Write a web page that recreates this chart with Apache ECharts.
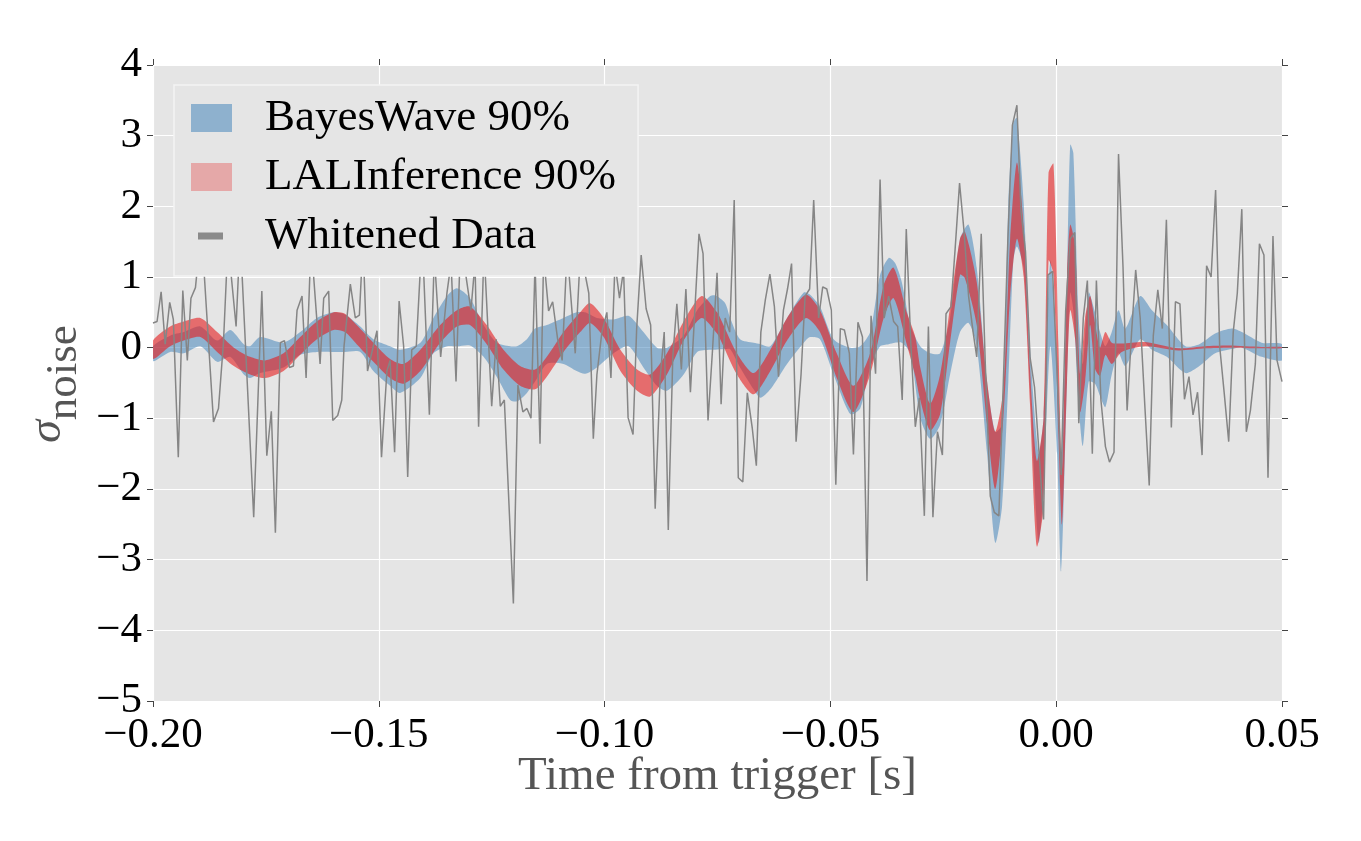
<!DOCTYPE html>
<html><head><meta charset="utf-8">
<script src="https://cdn.jsdelivr.net/npm/echarts@6/dist/echarts.min.js"></script>
<style>html,body{margin:0;padding:0;background:#fff}#c{width:1361px;height:841px}</style>
</head><body><div id="c"></div>
<script>
// Whitened data (time in s, value in sigma)
const dataT = [-0.2000,-0.1991,-0.1982,-0.1973,-0.1963,-0.1955,-0.1944,-0.1934,-0.1924,-0.1916,-0.1906,-0.1893,-0.1866,-0.1855,-0.1844,-0.1834,-0.1816,-0.1807,-0.1777,-0.1759,-0.1748,-0.1738,-0.1729,-0.1718,-0.1709,-0.1698,-0.1689,-0.1681,-0.1670,-0.1661,-0.1650,-0.1630,-0.1622,-0.1611,-0.1602,-0.1591,-0.1582,-0.1577,-0.1563,-0.1552,-0.1543,-0.1535,-0.1525,-0.1514,-0.1504,-0.1494,-0.1482,-0.1475,-0.1465,-0.1455,-0.1445,-0.1436,-0.1427,-0.1417,-0.1404,-0.1388,-0.1377,-0.1363,-0.1349,-0.1340,-0.1329,-0.1320,-0.1309,-0.1296,-0.1287,-0.1279,-0.1267,-0.1250,-0.1240,-0.1231,-0.1222,-0.1202,-0.1192,-0.1181,-0.1172,-0.1163,-0.1154,-0.1143,-0.1135,-0.1124,-0.1115,-0.1104,-0.1094,-0.1083,-0.1065,-0.1054,-0.1045,-0.1035,-0.1025,-0.1017,-0.1006,-0.0995,-0.0986,-0.0977,-0.0967,-0.0958,-0.0948,-0.0937,-0.0929,-0.0919,-0.0908,-0.0898,-0.0888,-0.0877,-0.0868,-0.0859,-0.0849,-0.0840,-0.0830,-0.0820,-0.0810,-0.0791,-0.0782,-0.0771,-0.0761,-0.0751,-0.0742,-0.0733,-0.0723,-0.0713,-0.0704,-0.0694,-0.0684,-0.0673,-0.0664,-0.0654,-0.0644,-0.0634,-0.0624,-0.0615,-0.0604,-0.0595,-0.0586,-0.0576,-0.0565,-0.0556,-0.0546,-0.0537,-0.0526,-0.0517,-0.0508,-0.0498,-0.0488,-0.0478,-0.0469,-0.0458,-0.0449,-0.0439,-0.0429,-0.0419,-0.0410,-0.0400,-0.0390,-0.0381,-0.0371,-0.0360,-0.0351,-0.0341,-0.0332,-0.0322,-0.0312,-0.0303,-0.0292,-0.0283,-0.0273,-0.0263,-0.0252,-0.0244,-0.0233,-0.0224,-0.0214,-0.0204,-0.0194,-0.0184,-0.0176,-0.0166,-0.0157,-0.0146,-0.0137,-0.0127,-0.0117,-0.0107,-0.0097,-0.0087,-0.0078,-0.0068,-0.0058,-0.0048,-0.0038,-0.0028,-0.0018,-0.0008,0.0002,0.0011,0.0021,0.0031,0.0041,0.0050,0.0060,0.0069,0.0080,0.0089,0.0099,0.0109,0.0118,0.0128,0.0138,0.0148,0.0157,0.0167,0.0176,0.0186,0.0196,0.0206,0.0215,0.0225,0.0235,0.0244,0.0255,0.0264,0.0274,0.0284,0.0294,0.0303,0.0313,0.0323,0.0333,0.0343,0.0353,0.0362,0.0372,0.0382,0.0392,0.0401,0.0411,0.0421,0.0430,0.0441,0.0450,0.0460,0.0469,0.0480,0.0489,0.0500];
const dataV = [0.35,0.37,0.79,0.05,0.64,0.40,-1.55,0.81,-0.18,0.70,0.85,1.7,-1.05,-0.86,0.07,1.5,0.3,1.6,-2.4,0.8,-1.53,-0.9,-2.62,0.07,0.1,-0.28,-0.26,0.53,0.73,-0.43,1.5,-0.23,0.7,0.8,-1.03,-0.96,-0.74,0.02,0.9,0.42,0.46,1.5,-0.33,-0.03,0.24,-1.55,-0.33,-0.18,-1.48,0.66,0.02,-1.83,-0.03,0.02,1.6,-0.95,1.3,-0.13,0.78,1.2,-0.48,1.3,1.1,0.53,1.2,-1.12,1.4,-0.83,0.12,-0.83,-0.74,-3.62,-0.53,-0.91,-0.86,-1.0,1.2,-1.36,1.3,0.52,0.65,0.12,-0.18,1.4,-0.08,1.3,1.1,0.77,-1.29,-0.38,0.22,0.5,-0.43,1.2,0.7,1.1,-0.99,-1.23,0.27,1.31,0.55,0.32,-2.28,-0.43,0.22,-2.58,-0.13,0.62,-0.31,0.83,-0.63,1.61,1.33,-1.03,-0.03,1.06,-0.8,0.42,0.22,2.09,-1.84,-1.9,-0.64,-1.14,-1.67,0.22,0.68,1.04,0.58,-0.41,0.53,0.83,1.19,-1.33,-0.38,0.73,0.83,2.09,0.42,0.86,0.83,0.53,-1.94,0.27,0.25,-0.08,-1.51,0.36,0.15,-3.3,0.45,-0.37,2.38,0.42,0.73,0.37,0.3,-0.74,1.68,0.07,-1.12,-0.71,-2.38,0.3,-2.4,-1.19,-1.52,0.48,0.58,1.38,2.33,1.64,0.73,0.22,-0.13,1.61,-0.23,-2.1,-2.33,-2.38,-0.48,1.54,3.15,3.43,1.94,1.36,-0.13,-0.56,-1.49,-2.43,1.03,1.08,-0.38,-1.8,0.53,1.54,1.63,-1.07,0.42,0.95,-1.5,0.95,-0.74,-1.4,-1.62,-1.48,2.74,1.13,-0.89,0.22,1.1,0.42,-0.79,-1.95,0.17,0.82,0.27,1.81,-1.13,0.65,0.62,-0.73,-0.41,-0.95,-0.63,-1.52,1.16,1.0,2.23,0.02,-0.64,-1.33,0.22,0.77,1.96,-1.19,-0.89,-0.23,1.47,1.31,-1.84,1.58,-0.18,-0.48];

// BayesWave 90% band
const bwT = [-0.2000,-0.1962,-0.1932,-0.1895,-0.1858,-0.1829,-0.1799,-0.1785,-0.1763,-0.1711,-0.1674,-0.1637,-0.1600,-0.1575,-0.1541,-0.1512,-0.1475,-0.1453,-0.1408,-0.1379,-0.1349,-0.1327,-0.1298,-0.1268,-0.1239,-0.1209,-0.1194,-0.1172,-0.1154,-0.1128,-0.1091,-0.1062,-0.1043,-0.1017,-0.0980,-0.0947,-0.0914,-0.0884,-0.0862,-0.0825,-0.0795,-0.0766,-0.0755,-0.0733,-0.0722,-0.0700,-0.0670,-0.0655,-0.0633,-0.0596,-0.0559,-0.0545,-0.0523,-0.0493,-0.0456,-0.0434,-0.0412,-0.0390,-0.0371,-0.0357,-0.0342,-0.0323,-0.0301,-0.0279,-0.0257,-0.0235,-0.0213,-0.0194,-0.0176,-0.0153,-0.0135,-0.0120,-0.0106,-0.0095,-0.0087,-0.0072,-0.0058,-0.0039,-0.0028,-0.0013,0.0002,0.0011,0.0024,0.0031,0.0038,0.0049,0.0059,0.0072,0.0086,0.0098,0.0109,0.0123,0.0138,0.0153,0.0186,0.0212,0.0245,0.0286,0.0317,0.0352,0.0389,0.0411,0.0455,0.0500];
const bwLo = [-0.19,-0.06,-0.08,0.02,-0.20,-0.13,-0.38,-0.43,-0.36,-0.28,-0.10,-0.06,-0.06,-0.06,-0.06,-0.33,-0.54,-0.64,-0.43,-0.08,0.02,0.02,0.03,-0.13,-0.41,-0.74,-0.76,-0.64,-0.48,-0.23,-0.23,-0.33,-0.37,-0.28,-0.08,0.02,-0.28,-0.54,-0.61,-0.38,-0.06,-0.03,-0.03,-0.02,-0.02,-0.28,-0.59,-0.71,-0.59,-0.23,0.07,0.15,0.12,-0.38,-0.94,-0.86,-0.28,0.02,0.05,0.07,0.07,-0.08,-0.99,-1.29,-1.09,-0.38,0.22,0.35,0.02,-1.50,-2.76,-2.25,-0.48,1.23,1.43,1.13,-0.59,-2.76,-2.00,0.02,-1.50,-3.16,-0.48,0.78,0.53,-0.74,-1.39,-0.48,-0.51,-0.70,-0.84,-0.38,-0.08,-0.26,0.12,-0.03,-0.13,-0.36,-0.26,-0.08,-0.02,0.00,-0.13,-0.18];
const bwHi = [0.02,0.17,0.22,0.30,0.10,0.25,0.05,0.02,0.15,0.07,0.22,0.42,0.50,0.47,0.30,0.12,0.02,-0.03,0.07,0.42,0.73,0.84,0.70,0.32,0.07,0.02,0.02,0.12,0.27,0.32,0.42,0.50,0.50,0.42,0.40,0.45,0.22,0.00,0.00,0.17,0.53,0.73,0.74,0.63,0.42,0.12,0.07,0.05,0.02,0.42,0.78,0.75,0.58,0.12,0.00,0.02,0.22,1.03,1.27,1.20,0.93,0.32,0.02,-0.08,-0.08,0.42,1.54,1.74,1.13,-0.48,-1.19,-1.09,2.04,3.18,3.25,2.04,0.02,-1.50,-0.99,1.23,-0.13,-1.75,1.03,2.87,2.75,0.53,-0.23,0.78,0.50,0.20,0.02,0.22,0.53,0.27,0.73,0.53,0.32,0.02,0.05,0.20,0.27,0.22,0.07,0.05];

// LALInference 90% band
const liT = [-0.2000,-0.1962,-0.1932,-0.1895,-0.1858,-0.1821,-0.1785,-0.1752,-0.1711,-0.1674,-0.1637,-0.1600,-0.1575,-0.1549,-0.1512,-0.1475,-0.1445,-0.1408,-0.1364,-0.1327,-0.1298,-0.1261,-0.1224,-0.1187,-0.1154,-0.1128,-0.1091,-0.1054,-0.1032,-0.1002,-0.0965,-0.0928,-0.0899,-0.0862,-0.0825,-0.0785,-0.0751,-0.0744,-0.0707,-0.0670,-0.0633,-0.0596,-0.0554,-0.0523,-0.0486,-0.0449,-0.0412,-0.0382,-0.0360,-0.0331,-0.0312,-0.0301,-0.0279,-0.0257,-0.0235,-0.0213,-0.0202,-0.0176,-0.0153,-0.0135,-0.0117,-0.0102,-0.0087,-0.0072,-0.0058,-0.0043,-0.0028,-0.0017,-0.0006,0.0005,0.0013,0.0024,0.0031,0.0042,0.0053,0.0064,0.0075,0.0086,0.0097,0.0109,0.0123,0.0145,0.0197,0.0271,0.0330,0.0382,0.0455,0.0500];
const liLo = [-0.16,0.02,0.10,0.15,-0.06,-0.26,-0.38,-0.43,-0.33,-0.10,0.12,0.25,0.22,0.05,-0.20,-0.43,-0.51,-0.33,0.07,0.30,0.32,0.05,-0.31,-0.54,-0.59,-0.41,-0.06,0.22,0.35,0.15,-0.33,-0.61,-0.69,-0.38,0.10,0.42,0.20,0.12,-0.38,-0.66,-0.33,0.10,0.42,0.22,-0.43,-0.91,-0.38,0.42,0.70,0.05,-0.40,-0.74,-1.17,-0.94,0.07,1.03,0.98,0.32,-1.09,-2.00,-0.99,0.73,1.54,1.00,-0.80,-2.81,-2.25,1.23,1.03,-1.24,-2.50,-0.48,0.53,0.12,-0.91,-0.48,0.32,-0.30,-0.40,-0.10,-0.23,-0.06,0.02,-0.04,-0.01,0.00,-0.01,-0.01];
const liHi = [0.10,0.30,0.37,0.42,0.22,0.00,-0.13,-0.18,-0.08,0.15,0.37,0.50,0.48,0.32,0.07,-0.16,-0.23,-0.03,0.32,0.53,0.58,0.32,-0.03,-0.26,-0.31,-0.13,0.22,0.50,0.63,0.42,-0.03,-0.31,-0.38,-0.08,0.37,0.73,0.50,0.42,-0.08,-0.36,-0.03,0.42,0.75,0.53,-0.08,-0.54,-0.08,0.88,1.13,0.50,0.15,-0.28,-0.79,-0.38,0.58,1.54,1.64,0.93,-0.48,-1.19,-0.59,1.54,2.62,1.70,-0.30,-1.60,-0.99,2.47,2.60,0.02,-1.75,1.03,1.74,1.43,-0.38,0.42,0.73,0.35,0.00,0.22,0.07,0.06,0.08,-0.01,0.02,0.03,0.01,0.01];

const xTicks = {min: -0.20, max: 0.05, step: 0.05};
const yTicks = {min: -5, max: 4, step: 1};

const FONT = 'Liberation Serif';
const fmtMinus = (s) => s.replace('-', '\u2212');

function bandRenderer(T, Lo, Hi, fill) {
  return function (params, api) {
    if (params.dataIndex !== 0) return;
    const up = [], lo = [];
    for (let i = 0; i < T.length; i++) up.push(api.coord([T[i], Hi[i]]));
    for (let i = T.length - 1; i >= 0; i--) lo.push(api.coord([T[i], Lo[i]]));
    return { type: 'polygon', shape: { points: up.concat(lo), smooth: 0.25 }, style: { fill: fill } };
  };
}

const chart = echarts.init(document.getElementById('c'), null, { renderer: 'canvas' });
const tickStyle = { show: true, inside: false, length: 6, lineStyle: { color: '#444', width: 1 } };
const noLine = { show: false, onZero: false };

chart.setOption({
  animation: false,
  backgroundColor: '#ffffff',
  grid: { left: 153, right: 79, top: 65, bottom: 140, show: true, backgroundColor: '#E5E5E5', borderWidth: 0 },
  xAxis: [{
    type: 'value', min: xTicks.min, max: xTicks.max, interval: xTicks.step,
    axisLine: noLine, axisTick: tickStyle,
    splitLine: { show: true, lineStyle: { color: '#ffffff', width: 1.2 } },
    axisLabel: { fontFamily: FONT, fontSize: 43, color: '#000', margin: 13,
      formatter: (v) => fmtMinus(v.toFixed(2)) },
    name: 'Time from trigger [s]', nameLocation: 'middle', nameGap: 52, nameMoveOverlap: false,
    nameTextStyle: { fontFamily: FONT, fontSize: 47, color: '#555555' }
  }, {
    type: 'value', position: 'top', min: xTicks.min, max: xTicks.max, interval: xTicks.step,
    axisLine: noLine, axisTick: tickStyle, axisLabel: { show: false }, splitLine: { show: false }
  }],
  yAxis: [{
    type: 'value', min: yTicks.min, max: yTicks.max, interval: yTicks.step,
    axisLine: noLine, axisTick: tickStyle,
    splitLine: { show: true, lineStyle: { color: '#ffffff', width: 1.2 } },
    axisLabel: { fontFamily: FONT, fontSize: 43, color: '#000', margin: 11,
      formatter: (v) => fmtMinus(String(v)) }
  }, {
    type: 'value', position: 'right', min: yTicks.min, max: yTicks.max, interval: yTicks.step,
    axisLine: noLine, axisTick: tickStyle, axisLabel: { show: false }, splitLine: { show: false }
  }],
  legend: {
    orient: 'vertical', left: 174, top: 85, z: 20,
    backgroundColor: '#E5E5E5', borderColor: '#F4F4F4', borderWidth: 1.5, borderRadius: 0,
    padding: [10, 22, 17, 17], itemWidth: 41, itemHeight: 28, itemGap: 13,
    selectedMode: false,
    textStyle: { fontFamily: FONT, fontSize: 45, color: '#000', lineHeight: 46, padding: [0, 0, 0, 28] },
    data: [
      { name: 'BayesWave 90%', icon: 'rect', itemStyle: { color: 'rgba(55,126,184,0.5)' } },
      { name: 'LALInference 90%', icon: 'rect', itemStyle: { color: 'rgba(228,26,28,0.3)' } },
      { name: 'Whitened Data', icon: 'path://M0,0L0.01,0L0,0.01Z M7,10.5L32,10.5L32,17.5L7,17.5Z M41,28L40.99,28L41,27.99Z', itemStyle: { color: '#8a8a8a' } }
    ]
  },
  graphic: [{
    type: 'text', x: 56, y: 384, rotation: Math.PI / 2, z: 10,
    style: {
      text: '{s|\u03c3}{n|noise}', align: 'center', verticalAlign: 'middle', fill: '#555555',
      rich: {
        s: { fontFamily: FONT, fontStyle: 'italic', fontSize: 46, lineHeight: 40, verticalAlign: 'top', fill: '#555555' },
        n: { fontFamily: FONT, fontSize: 45, lineHeight: 62, verticalAlign: 'bottom', fill: '#555555' }
      }
    }
  }],
  series: [
    { name: 'BayesWave 90%', type: 'custom', z: 2, clip: true,
      itemStyle: { color: 'rgba(55,126,184,0.5)' },
      renderItem: bandRenderer(bwT, bwLo, bwHi, 'rgba(55,126,184,0.5)'),
      data: [[bwT[0], bwLo[0]]] },
    { name: 'LALInference 90%', type: 'custom', z: 3, clip: true,
      itemStyle: { color: 'rgba(228,26,28,0.3)' },
      renderItem: bandRenderer(liT, liLo, liHi, 'rgba(228,26,28,0.6)'),
      data: [[liT[0], liLo[0]]] },
    { name: 'Whitened Data', type: 'line', z: 4, symbol: 'none', clip: true,
      lineStyle: { color: '#858585', width: 1.5 }, itemStyle: { color: '#8a8a8a' },
      data: dataT.map((t, i) => [t, dataV[i]]) }
  ]
});
</script>
</body></html>
